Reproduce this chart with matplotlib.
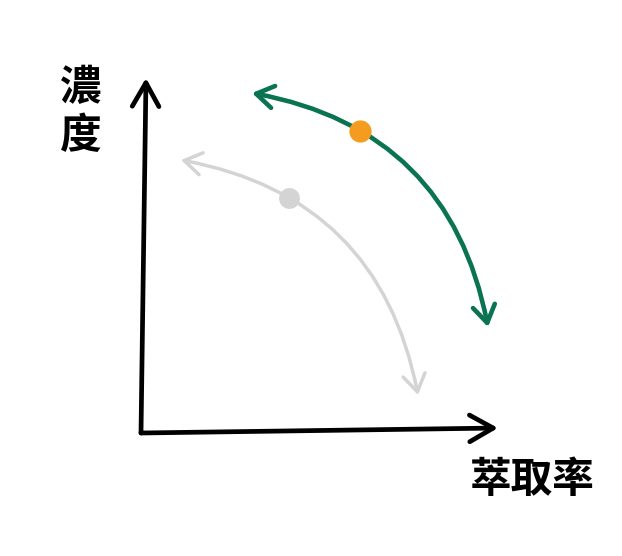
import matplotlib
matplotlib.use("Agg")
import matplotlib.pyplot as plt
from matplotlib.patches import FancyArrowPatch

# ---- data (conceptual units: x = extraction, y = concentration) ----
axis_x_end = [357, 5]        # x-axis arrow tip
axis_y_end = [5, 355]        # y-axis arrow tip
green_start = [111, 340]
green_end = [347, 106]
green_dot = [219, 302]
gray_start = [40, 273]
gray_end = [277, 38]
gray_dot = [148, 235]
y_label = "濃\n度"
x_label = "萃取率"

GREEN = "#0a7352"
ORANGE = "#f39c1f"
GRAY = "#d4d4d4"

plt.rcParams['font.family'] = ['Noto Sans CJK TC', 'DejaVu Sans']

fig = plt.figure(figsize=(6.22, 5.56), dpi=100)
ax = fig.add_axes([0, 0, 1, 1])
ax.set_xlim(-141, 481)
ax.set_ylim(-123, 433)
ax.axis("off")

def arrow(a, b, style, color, lw, rad, ms=20):
    p = FancyArrowPatch(tuple(a), tuple(b), arrowstyle=style,
                        connectionstyle=f"arc3,rad={rad}",
                        mutation_scale=ms, color=color, lw=lw,
                        shrinkA=0, shrinkB=0, capstyle='round',
                        joinstyle='round')
    ax.add_patch(p)

# axes
arrow([0, 0], axis_y_end, "->,head_length=0.85,head_width=0.48", "black", 3.4, 0)
arrow([0, 0], axis_x_end, "->,head_length=0.85,head_width=0.48", "black", 3.4, 0)

# curves
arrow(gray_start, gray_end, "<->,head_length=0.62,head_width=0.4", GRAY, 2.5, -0.34)
arrow(green_start, green_end, "<->,head_length=0.62,head_width=0.4", GREEN, 3.3, -0.34)

# dots
ax.plot([gray_dot[0]], [gray_dot[1]], 'o', ms=15, color=GRAY, mec='none', zorder=5)
ax.plot([green_dot[0]], [green_dot[1]], 'o', ms=16, color=ORANGE, mec='none', zorder=5)

# labels
ax.text(-60, 321, y_label, fontsize=30, fontweight='bold', ha='center', va='center',
        linespacing=1.2)
ax.text(391, -47, x_label, fontsize=30, fontweight='bold', ha='center', va='center')

fig.savefig("out.png", dpi=100)
